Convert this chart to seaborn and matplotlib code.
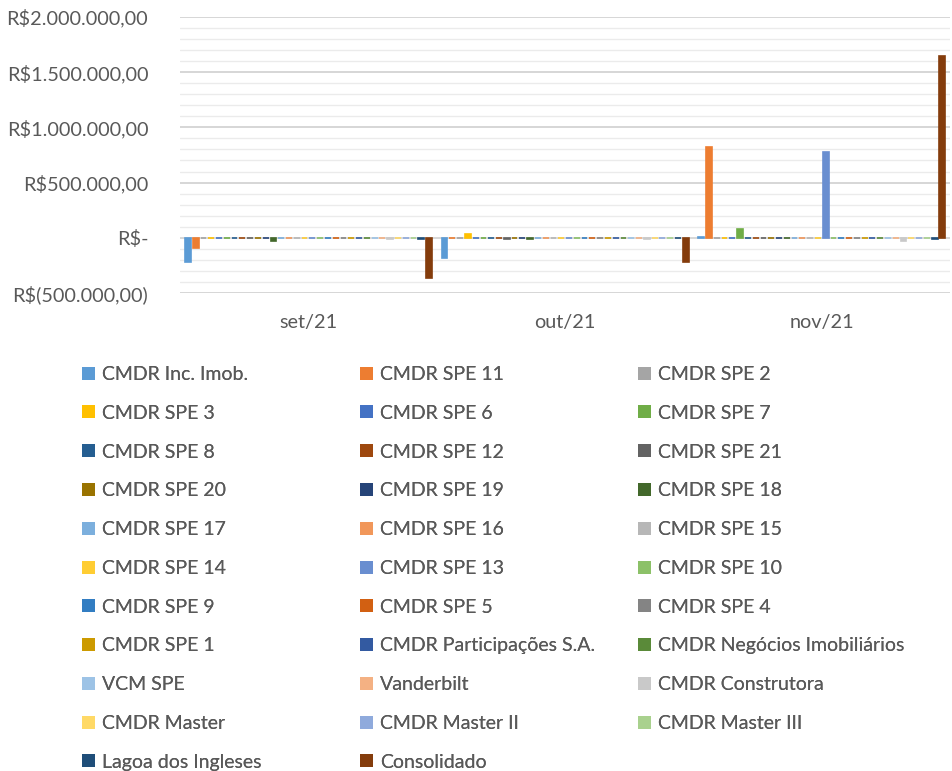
import numpy as np
import pandas as pd
import matplotlib
matplotlib.use("Agg")
import matplotlib.pyplot as plt
import matplotlib.patches as mpatches
from matplotlib.ticker import FuncFormatter, MultipleLocator
import seaborn as sns

months = ["set/21", "out/21", "nov/21"]

series = [
    "CMDR Inc. Imob.", "CMDR SPE 11", "CMDR SPE 2",
    "CMDR SPE 3", "CMDR SPE 6", "CMDR SPE 7",
    "CMDR SPE 8", "CMDR SPE 12", "CMDR SPE 21",
    "CMDR SPE 20", "CMDR SPE 19", "CMDR SPE 18",
    "CMDR SPE 17", "CMDR SPE 16", "CMDR SPE 15",
    "CMDR SPE 14", "CMDR SPE 13", "CMDR SPE 10",
    "CMDR SPE 9", "CMDR SPE 5", "CMDR SPE 4",
    "CMDR SPE 1", "CMDR Participações S.A.", "CMDR Negócios Imobiliários",
    "VCM SPE", "Vanderbilt", "CMDR Construtora",
    "CMDR Master", "CMDR Master II", "CMDR Master III",
    "Lagoa dos Ingleses", "Consolidado",
]

# values per month, same order as series
set_21 = [-215000, -90000, 0, 0, 0, 0, 0, 0, 0, 0, 0, -30000,
          0, 0, 0, 0, 0, 0, 0, 0, 0, 0, 0, 0,
          0, 0, -10000, 0, 0, 0, -10000, -365000]
out_21 = [-180000, 0, 0, 30000, 0, 0, 0, 0, -10000, 0, 0, -10000,
          0, 0, 0, 0, 0, 0, 0, 0, 0, 0, 0, 0,
          0, 0, -10000, 0, 0, 0, -5000, -215000]
nov_21 = [10000, 825000, 0, 0, 0, 80000, 0, 0, 0, 0, 0, 0,
          0, 0, 0, 0, 780000, 0, 0, 0, 0, 0, 0, 0,
          0, 0, -30000, 0, 0, 0, -10000, 1645000]

colors = [
    "#5B9BD5", "#ED7D31", "#A5A5A5", "#FFC000", "#4472C4", "#70AD47",
    "#255E91", "#9E480E", "#636363", "#997300", "#264478", "#43682B",
    "#7CAFDD", "#F1975A", "#B7B7B7", "#FFCD33", "#698ED0", "#8CC168",
    "#327DC2", "#D26012", "#848484", "#CC9A00", "#335AA1", "#5A8A39",
    "#9DC3E6", "#F4B183", "#C9C9C9", "#FFD966", "#8FAADC", "#A9D18E",
    "#1F4E79", "#843C0C",
]

rows = []
for m, vals in zip(months, [set_21, out_21, nov_21]):
    for s, v in zip(series, vals):
        rows.append({"mes": m, "empresa": s, "valor": v})
df = pd.DataFrame(rows)

sns.set_style("white")
plt.rcParams["font.family"] = ["Lato", "DejaVu Sans"]
text_color = "#595959"

fig = plt.figure(figsize=(9.53, 7.71), dpi=100)
ax = fig.add_axes([0.189, 0.62, 0.808, 0.358])

palette = dict(zip(series, colors))
sns.barplot(data=df, x="mes", y="valor", hue="empresa", hue_order=series,
            order=months, palette=palette, width=0.97, gap=0.25,
            saturation=1, legend=False, ax=ax, zorder=3)

# thin outline in the bar colour so zero bars still show as a strip
for p in ax.patches:
    p.set_edgecolor(p.get_facecolor())
    p.set_linewidth(1.2)

ax.set_ylim(-500000, 2000000)
ax.set_xlim(-0.5, 2.5)
ax.yaxis.set_major_locator(MultipleLocator(500000))
ax.yaxis.set_minor_locator(MultipleLocator(100000))
ax.grid(which="major", axis="y", color="#D0D0D0", linewidth=1.2, zorder=0)
ax.grid(which="minor", axis="y", color="#EBEBEB", linewidth=1.0, zorder=0)
ax.axhline(0, color="#D9D9D9", linewidth=1.2, zorder=1)


def brl(v, pos):
    if abs(v) < 1:
        return "R$-"
    s = f"{abs(v):,.2f}".replace(",", "X").replace(".", ",").replace("X", ".")
    return f"R$({s})" if v < 0 else f"R${s}"


ax.yaxis.set_major_formatter(FuncFormatter(brl))
ax.tick_params(axis="y", which="both", length=0, pad=23, labelsize=14.3, labelcolor=text_color)
ax.tick_params(axis="x", length=0, pad=15, labelsize=14.3, labelcolor=text_color)
ax.set_xlabel("")
ax.set_ylabel("")
for sp in ax.spines.values():
    sp.set_visible(False)

# legend: three columns, filled row by row
col_x = [82, 360, 638]
for c in range(3):
    idx = list(range(c, len(series), 3))
    handles = [mpatches.Patch(facecolor=colors[i], edgecolor="none", label=series[i]) for i in idx]
    leg = fig.legend(handles=handles, loc="upper left",
                     bbox_to_anchor=(col_x[c] / 953, 1 - 366 / 771),
                     frameon=False, fontsize=14, labelcolor=text_color,
                     handlelength=0.65, handleheight=0.65, handletextpad=0.4,
                     labelspacing=1.12, borderaxespad=0, borderpad=0)
    fig.add_artist(leg)

fig.savefig("out.png", dpi=100)
